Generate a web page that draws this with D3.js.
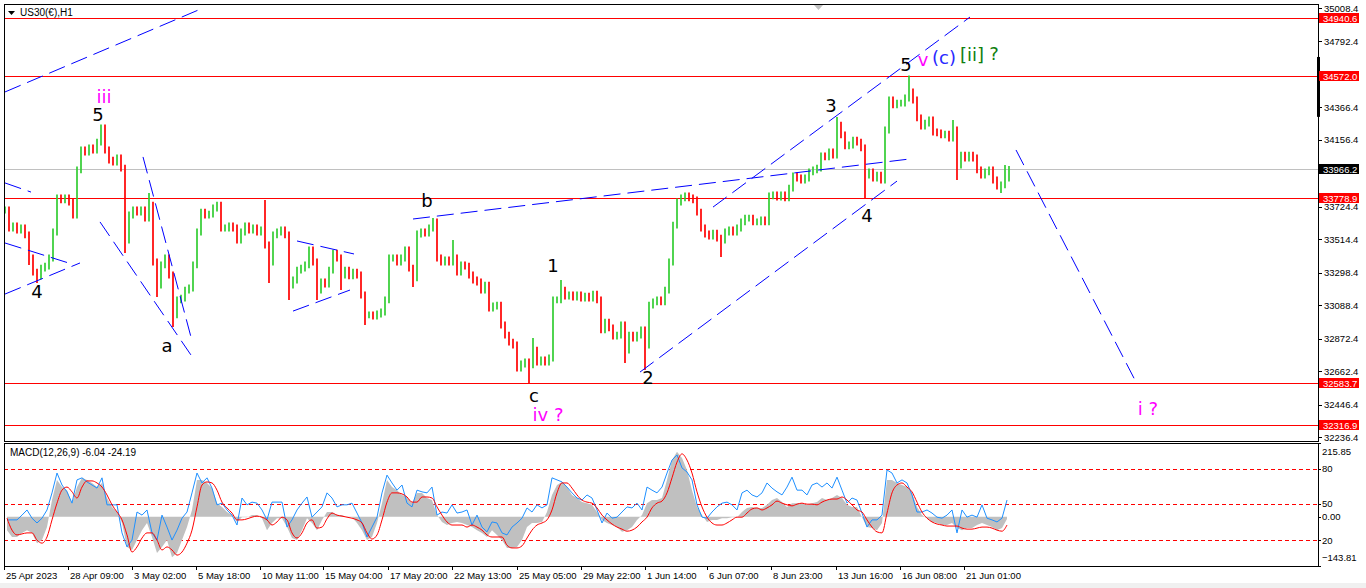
<!DOCTYPE html>
<html>
<head>
<meta charset="utf-8">
<script src="https://cdn.jsdelivr.net/npm/d3@7"></script>
<style>
  html, body { margin: 0; padding: 0; background: #fff; }
  svg { display: block; font-family: "Liberation Sans", Arial, sans-serif; }
</style>
</head>
<body>
<div id="chart"></div>
<script>
"use strict";

// == DATA ==
// US30 H1 closes, one every 4 bars (bar 0 = 25 Apr 2023)
var closeStep = 4;
var closes = [
  33703, 33587, 33600, 33574, 33587, 33542, 33393, 33302, 33277, 33328,
  33341, 33393, 33561, 33781, 33768, 33781, 33755, 33671, 33962, 34091,
  34078, 34104, 34091, 34142, 34233, 34091, 34026, 34013, 34039, 33974,
  33509, 33671, 33703, 33690, 33703, 33651, 33735, 33367, 33218, 33348,
  33393, 33283, 33025, 33122, 33134, 33186, 33199, 33348, 33561, 33690,
  33671, 33677, 33716, 33735, 33587, 33587, 33600, 33587, 33509, 33561,
  33600, 33574, 33587, 33561, 33574, 33477, 33367, 33542, 33561, 33574,
  33542, 33218, 33251, 33315, 33328, 33348, 33445, 33367, 33186, 33238,
  33225, 33315, 33425, 33393, 33283, 33315, 33277, 33302, 33283, 33154,
  33025, 33025, 33018, 33031, 33044, 33122, 33393, 33393, 33367, 33393,
  33445, 33328, 33264, 33548, 33561, 33554, 33587, 33626, 33393, 33367,
  33380, 33367, 33393, 33302, 33348, 33341, 33283, 33251, 33238, 33186,
  33218, 33070, 33083, 33089, 32960, 32895, 32850, 32831, 32682, 32708,
  32721, 32702, 32798, 32721, 32734, 32721, 32747, 33122, 33122, 33186,
  33147, 33154, 33141, 33154, 33134, 33147, 33134, 33160, 33122, 32928,
  32979, 32941, 32889, 32895, 32960, 32798, 32895, 32876, 32895, 32928,
  32831, 33089, 33109, 33122, 33109, 33186, 33367, 33606, 33755, 33781,
  33794, 33781, 33768, 33690, 33587, 33548, 33535, 33554, 33522, 33509,
  33561, 33574, 33561, 33587, 33626, 33651, 33651, 33626, 33626, 33639,
  33626, 33794, 33800, 33787, 33800, 33781, 33845, 33923, 33910, 33897,
  33910, 33949, 33962, 33974, 34052, 34046, 34078, 34058, 34252, 34188,
  34117, 34123, 34155, 34142, 34104, 33929, 33949, 33910, 33929, 33897,
  34220, 34414, 34382, 34394, 34394, 34427, 34466, 34414, 34298, 34246,
  34265, 34285, 34207, 34201, 34188, 34194, 34168, 34220, 33994, 34058,
  34039, 34058, 34039, 33962, 33929, 33949, 33962, 33897, 33858, 33865,
  33910, 33966
];
// long shadows: [bar, extreme price]
var wicks = [
  [24, 33348], [32, 33231], [96, 34252], [120, 33425], [144, 33813],
  [152, 33141], [168, 32947], [260, 33768], [264, 33231], [284, 33122],
  [312, 33122], [336, 33186], [360, 32960], [408, 33206], [428, 33651],
  [448, 33509], [524, 32585], [528, 32876], [556, 33251], [620, 32714],
  [640, 32669], [716, 33399], [832, 34304], [860, 33781], [904, 34572],
  [948, 34285], [952, 33897], [996, 33813], [1000, 33994]
];

// MACD(12,26,9), one value every 5 bars starting at bar 3
var macdStart = 3, macdStep = 5;
var macdHist = [
  -39, -59, -59, -47, -39, -47, -77, -68, -30, 49,
  108, 87, 78, 40, 87, 114, 108, 99, 87, 99,
  55, 29, 14, -18, -88, -97, -68, -39, -18, -59,
  -106, -88, -68, -118, -106, -68, -30, 20, 108, 108,
  99, 84, 40, 29, 14, 5, -15, -1, -1, 5,
  5, -4, -39, -18, -4, -4, -30, -62, -68, -39,
  -4, -18, -39, -9, 14, 14, 5, 5, -1, -1,
  -18, -39, -68, -59, -18, 40, 108, 87, 78, 64,
  58, 40, 70, 70, 55, 49, 5, -15, -24, -18,
  -15, -18, -24, -30, -39, -47, -59, -39, -53, -68,
  -91, -91, -88, -68, -30, -18, -18, -15, 14, 64,
  93, 102, 87, 64, 55, 43, 40, 35, 14, -9,
  -18, -24, -30, -44, -39, -30, -9, 5, 40, 49,
  49, 55, 108, 166, 190, 172, 137, 78, 29, 5,
  -15, -9, -9, -4, -4, -1, -1, 14, 26, 29,
  26, 26, 35, 49, 55, 43, 29, 40, 40, 40,
  35, 40, 43, 55, 49, 55, 64, 55, 35, 29,
  29, -1, -30, -33, -39, -18, 108, 108, 99, 93,
  87, 70, 29, 5, -4, -15, -18, -24, -24, -18,
  -33, -39, -33, -33, -24, -18, -24, -30, -39, -33,
  -6.04
];
var macdSignal = [
  -4, -39, -53, -50, -47, -47, -68, -77, -59, -9,
  40, 78, 87, 73, 55, 87, 105, 105, 99, 87,
  64, 35, 14, -9, -53, -103, -88, -62, -47, -47,
  -68, -97, -88, -97, -112, -103, -77, -39, 29, 93,
  102, 99, 78, 43, 26, 11, -9, -9, -6, -1,
  2, -1, -9, -24, -15, -1, -9, -47, -62, -47,
  -18, -9, -33, -30, -6, 11, 5, 2, -1, -4,
  -9, -18, -47, -65, -53, -9, 43, 70, 70, 67,
  58, 43, 43, 58, 58, 55, 29, 5, -15, -24,
  -24, -24, -30, -24, -30, -39, -53, -59, -59, -59,
  -83, -91, -91, -85, -62, -39, -24, -18, -9, 20,
  70, 99, 99, 84, 64, 49, 43, 40, 26, 5,
  -9, -21, -30, -36, -42, -39, -30, -15, -1, 26,
  40, 46, 70, 114, 160, 184, 166, 128, 73, 29,
  -1, -18, -24, -24, -18, -9, -1, -1, 11, 23,
  26, 20, 26, 35, 46, 40, 35, 32, 37, 40,
  37, 37, 35, 43, 49, 52, 52, 58, 49, 35,
  20, 14, -9, -30, -44, -47, 11, 70, 93, 99,
  87, 73, 43, 14, -4, -15, -21, -24, -27, -27,
  -27, -33, -36, -36, -33, -30, -30, -33, -39, -42,
  -24.19
];
var macdBlue = [
  -9, -9, -9, 5, 20, -4, -18, -4, 20, 70,
  128, 93, 73, 40, 108, 114, 102, 93, 84, 114,
  35, 35, 35, -47, -88, -68, 14, 5, 20, -47,
  -68, 5, -30, -68, -39, -4, 14, 70, 128, 99,
  114, 84, 35, 40, 20, 5, -24, 55, 35, 43,
  40, 20, -9, 43, 43, 43, -30, -9, 20, 40,
  58, -1, 14, 29, 70, 55, 29, 35, 35, 40,
  11, -18, -59, -30, -1, 70, 122, 99, 78, 93,
  40, 29, 78, 73, 70, 87, 5, 14, 11, 35,
  11, 14, 20, -24, 5, -30, -44, -15, -18, -47,
  -53, -30, -18, -4, 26, 14, 35, 26, 35, 114,
  108, 102, 87, 70, 55, 49, 64, 55, 20, -18,
  11, -4, -1, 14, 29, 26, 40, 20, 87, 78,
  70, 87, 128, 166, 181, 143, 131, 108, 35, -1,
  -4, 14, 29, 40, 43, 35, 20, 70, 78, 64,
  58, 70, 99, 84, 73, 64, 87, 116, 78, 78,
  64, 93, 99, 87, 99, 84, 116, 78, 40, 55,
  49, 11, -30, -9, -9, 5, 137, 128, 99, 108,
  99, 64, 14, 14, 20, 11, -1, -4, 5, 20,
  -47, 20, -1, 5, -1, 35, -4, -9, -15, -4,
  49
];
var macdLevels = [140.7, 37.5, -67.8];
var macdLevelLabels = ["80", "50", "20"];
var macdAxisLabels = [215.85, 0, -143.81];

var timeBars = [0, 64, 128, 192, 256, 319, 384, 448, 513, 577, 641, 703, 767, 832, 896, 960];
var timeLabels = ["25 Apr 2023", "28 Apr 09:00", "3 May 02:00", "5 May 18:00", "10 May 11:00",
  "15 May 04:00", "17 May 20:00", "22 May 13:00", "25 May 05:00", "29 May 22:00",
  "1 Jun 14:00", "6 Jun 07:00", "8 Jun 23:00", "13 Jun 16:00", "16 Jun 08:00", "21 Jun 01:00"];

var priceTicks = [35008.4, 34792.4, 34366.4, 34156.4, 33724.4, 33514.4,
  33298.4, 33088.4, 32872.4, 32662.4, 32446.4, 32236.4];
var redLevels = [34940.6, 34572.0, 33778.9, 32583.7, 32316.9];
var lastPrice = 33966.2;

// trend lines: [bar1, price1, bar2, price2]
var trendLines = [
  [1, 34466, 199, 35008],
  [1, 33878, 27, 33819],
  [1, 33490, 68, 33354],
  [1, 33160, 76, 33361],
  [139, 34046, 187, 32882],
  [96, 33626, 189, 32747],
  [293, 33503, 350, 33419],
  [289, 33050, 346, 33186],
  [409, 33645, 906, 34033],
  [636, 32656, 893, 33890],
  [709, 33722, 966, 34950],
  [1012, 34091, 1133, 32579]
];

// wave labels: [bar, price, text, degree]
var waveLabels = [
  [100, 34395, "iii", "minute"],
  [94, 34278, "5", "minuette"],
  [33, 33135, "4", "minuette"],
  [163, 32786, "a", "minuette"],
  [423, 33722, "b", "minuette"],
  [530, 32462, "c", "minuette"],
  [544, 32340, "iv ?", "minute"],
  [549, 33302, "1", "minuette"],
  [644, 32579, "2", "minuette"],
  [827, 34336, "3", "minuette"],
  [863, 33626, "4", "minuette"],
  [902, 34601, "5", "minuette"],
  [919, 34634, "v", "minute"],
  [940, 34647, "(c)", "minor"],
  [968, 34666, "[ii]", "intermediate"],
  [990, 34672, "?", "intermediate"],
  [1144, 32378, "i ?", "minute"]
];
var degreeColor = { minuette: "#000000", minute: "#ff00ff", minor: "#2828ff", intermediate: "#0f7f0f" };

// == LAYOUT ==
var W = 1366, H = 588;
var main = { left: 4, right: 1318, top: 4, bottom: 441 };
var sub = { top: 443, bottom: 566 };
var pad = 22; // visual bar range around open/close

var svg = d3.select("#chart").append("svg")
  .attr("width", W).attr("height", H);

svg.append("rect").attr("x", 0).attr("y", 583).attr("width", W).attr("height", 5).attr("fill", "#f0f0f0");

var x = d3.scaleLinear().domain([0, 1314]).range([main.left, main.right]);
var y = d3.scaleLinear().domain([32236.4, 35008.4]).range([437, 8]);
var ym = d3.scaleLinear().domain([-143.81, 215.85]).range([sub.bottom, sub.top]);

var defs = svg.append("defs");
defs.append("clipPath").attr("id", "clipMain").append("rect")
  .attr("x", main.left).attr("y", main.top)
  .attr("width", main.right - main.left).attr("height", main.bottom - main.top);
defs.append("clipPath").attr("id", "clipSub").append("rect")
  .attr("x", main.left).attr("y", sub.top)
  .attr("width", main.right - main.left).attr("height", sub.bottom - sub.top);

var gMain = svg.append("g").attr("clip-path", "url(#clipMain)");
var gSub = svg.append("g").attr("clip-path", "url(#clipSub)");

// horizontal levels
gMain.append("line")
  .attr("x1", main.left).attr("x2", main.right)
  .attr("y1", Math.round(y(lastPrice)) + 0.5).attr("y2", Math.round(y(lastPrice)) + 0.5)
  .attr("stroke", "#c0c0c0");
gMain.selectAll("line.lvl").data(redLevels).enter().append("line")
  .attr("class", "lvl")
  .attr("x1", main.left).attr("x2", main.right)
  .attr("y1", function (d) { return Math.round(y(d)) + 0.5; })
  .attr("y2", function (d) { return Math.round(y(d)) + 0.5; })
  .attr("stroke", "#ff0000");

// price bars
var bars = closes.map(function (c, i) {
  var o = i ? closes[i - 1] : c;
  return { bar: i * closeStep, o: o, c: c, hi: Math.max(o, c) + pad, lo: Math.min(o, c) - pad };
});
wicks.forEach(function (w) {
  var b = bars[w[0] / closeStep];
  if (!b) return;
  if (w[1] > b.hi) b.hi = w[1];
  if (w[1] < b.lo) b.lo = w[1];
});
gMain.selectAll("line.bar").data(bars).enter().append("line")
  .attr("class", "bar")
  .attr("x1", function (d) { return x(d.bar) + 1; })
  .attr("x2", function (d) { return x(d.bar) + 1; })
  .attr("y1", function (d) { return y(d.hi); })
  .attr("y2", function (d) { return y(d.lo); })
  .attr("stroke", function (d) { return d.c >= d.o ? "#32cd32" : "#ff0000"; })
  .attr("stroke-width", 1.7);

// trend lines
gMain.selectAll("line.trend").data(trendLines).enter().append("line")
  .attr("class", "trend")
  .attr("x1", function (d) { return x(d[0]); })
  .attr("y1", function (d) { return y(d[1]); })
  .attr("x2", function (d) { return x(d[2]); })
  .attr("y2", function (d) { return y(d[3]); })
  .attr("stroke", "#0000ff")
  .attr("stroke-width", 1)
  .attr("stroke-dasharray", "17,7");

// wave labels
gMain.selectAll("text.wave").data(waveLabels).enter().append("text")
  .attr("class", "wave")
  .attr("x", function (d) { return x(d[0]); })
  .attr("y", function (d) { return y(d[1]); })
  .attr("text-anchor", "middle")
  .attr("font-family", "'DejaVu Sans', sans-serif")
  .attr("font-size", 18)
  .attr("fill", function (d) { return degreeColor[d[3]]; })
  .text(function (d) { return d[2]; });

// == MACD ==
var mx = function (d, i) { return x(macdStart + i * macdStep); };
gSub.selectAll("line.mlvl").data(macdLevels).enter().append("line")
  .attr("class", "mlvl")
  .attr("x1", main.left).attr("x2", main.right)
  .attr("y1", function (d) { return Math.round(ym(d)) + 0.5; })
  .attr("y2", function (d) { return Math.round(ym(d)) + 0.5; })
  .attr("stroke", "#ff0000")
  .attr("stroke-dasharray", "4,3");

gSub.append("path").datum(macdHist)
  .attr("fill", "#c0c0c0")
  .attr("d", d3.area().x(mx).y0(ym(0)).y1(function (d) { return ym(d); }));
gSub.append("path").datum(macdBlue)
  .attr("fill", "none").attr("stroke", "#1e90ff").attr("stroke-width", 1)
  .attr("d", d3.line().x(mx).y(function (d) { return ym(d); }));
gSub.append("path").datum(macdSignal)
  .attr("fill", "none").attr("stroke", "#ff0000").attr("stroke-width", 1)
  .attr("d", d3.line().x(mx).y(function (d) { return ym(d); }).curve(d3.curveMonotoneX));

// == FRAMES ==
svg.append("rect").attr("x", main.left + 0.5).attr("y", main.top + 0.5)
  .attr("width", main.right - main.left).attr("height", main.bottom - main.top)
  .attr("fill", "none").attr("stroke", "#000");
svg.append("rect").attr("x", main.left + 0.5).attr("y", sub.top + 0.5)
  .attr("width", main.right - main.left).attr("height", sub.bottom - sub.top)
  .attr("fill", "none").attr("stroke", "#000");

// axis scroll marker
svg.append("line")
  .attr("x1", main.right + 0.5).attr("x2", main.right + 0.5)
  .attr("y1", y(34692)).attr("y2", y(34305))
  .attr("stroke", "#000").attr("stroke-width", 3);

// chart shift marker
svg.append("path")
  .attr("d", "M" + (x(810)) + ",5 l9,0 l-4.5,5 z")
  .attr("fill", "#c0c0c0");

// header
svg.append("path").attr("d", "M8,11 l7,0 l-3.5,4 z").attr("fill", "#000");
svg.append("text").attr("x", 20).attr("y", 16).attr("font-size", 10).attr("fill", "#000")
  .text("US30(\u20ac),H1");
svg.append("text").attr("x", 10).attr("y", 456).attr("font-size", 10).attr("fill", "#000")
  .text("MACD(12,26,9) -6.04 -24.19");

// price axis
var fmt = d3.format(".1f");
var pAxis = svg.append("g");
pAxis.selectAll("line").data(priceTicks).enter().append("line")
  .attr("x1", main.right).attr("x2", main.right + 4)
  .attr("y1", function (d) { return Math.round(y(d)) + 0.5; })
  .attr("y2", function (d) { return Math.round(y(d)) + 0.5; })
  .attr("stroke", "#000");
pAxis.selectAll("text").data(priceTicks).enter().append("text")
  .attr("x", main.right + 6)
  .attr("y", function (d) { return y(d) + 3.5; })
  .attr("font-size", 9.5).attr("fill", "#000")
  .text(fmt);

var boxes = redLevels.map(function (d) { return { v: d, c: "#ff0000" }; });
boxes.push({ v: lastPrice, c: "#000000" });
var gBox = svg.append("g").selectAll("g").data(boxes).enter().append("g")
  .attr("transform", function (d) { return "translate(" + (main.right + 1) + "," + Math.round(y(d.v)) + ")"; });
gBox.append("rect").attr("x", 0).attr("y", -5).attr("width", 40).attr("height", 10)
  .attr("fill", function (d) { return d.c; });
gBox.append("text").attr("x", 4).attr("y", 3.5)
  .attr("font-size", 9.5).attr("fill", "#fff")
  .text(function (d) { return fmt(d.v); });

// MACD axis
var mTicks = macdAxisLabels.map(function (d) { return { v: d, t: d3.format(".2f")(d) }; })
  .concat(macdLevels.map(function (d, i) { return { v: d, t: macdLevelLabels[i] }; }));
var mAxis = svg.append("g");
mAxis.selectAll("line").data(mTicks).enter().append("line")
  .attr("x1", main.right).attr("x2", main.right + 3)
  .attr("y1", function (d) { return Math.round(ym(d.v)) + 0.5; })
  .attr("y2", function (d) { return Math.round(ym(d.v)) + 0.5; })
  .attr("stroke", "#000");
mAxis.selectAll("text").data(mTicks).enter().append("text")
  .attr("x", main.right + 4)
  .attr("y", function (d) {
    var yy = ym(d.v) + 3.5;
    return Math.min(Math.max(yy, sub.top + 12), sub.bottom - 5);
  })
  .attr("font-size", 9.5).attr("fill", "#000")
  .text(function (d) { return d.t; });

// time axis
var tAxis = svg.append("g");
tAxis.selectAll("line").data(timeBars).enter().append("line")
  .attr("x1", function (d) { return Math.round(x(d)) + 0.5; })
  .attr("x2", function (d) { return Math.round(x(d)) + 0.5; })
  .attr("y1", sub.bottom).attr("y2", sub.bottom + 4)
  .attr("stroke", "#000");
tAxis.selectAll("text").data(timeBars).enter().append("text")
  .attr("x", function (d) { return x(d) + 2; })
  .attr("y", 579)
  .attr("font-size", 9.5).attr("fill", "#000")
  .text(function (d, i) { return timeLabels[i]; });
</script>
</body>
</html>
